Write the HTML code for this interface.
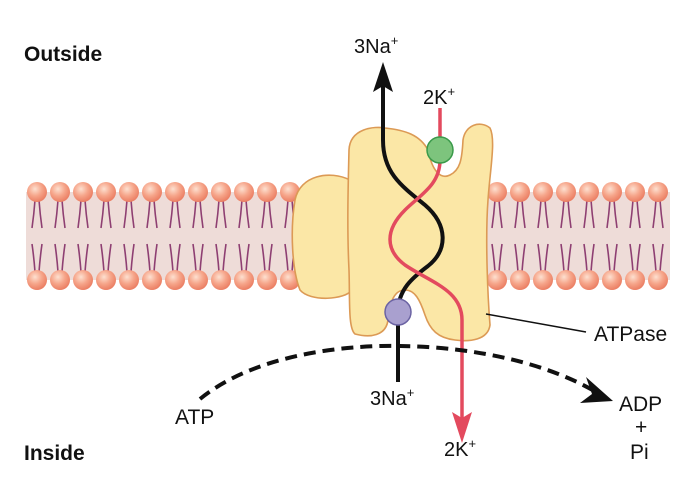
<!DOCTYPE html>
<html><head><style>body{margin:0;background:#fff}svg{display:block}text{font-family:"Liberation Sans",sans-serif;fill:#111}</style></head><body>
<svg width="689" height="477" viewBox="0 0 689 477" xmlns="http://www.w3.org/2000/svg">
<defs>
<radialGradient id="h" cx="0.4" cy="0.35" r="0.7"><stop offset="0" stop-color="#fde0d0"/><stop offset="0.5" stop-color="#f6a58a"/><stop offset="1" stop-color="#e9795e"/></radialGradient>
<g id="lip">
<path d="M-2,200 Q-3,214 -5,228 M2,200 Q3,214 5,228 M-5,244 Q-3,258 -2,272 M5,244 Q3,258 2,272" stroke="#8e3f72" stroke-width="1.6" fill="none"/>
<circle cx="0" cy="192" r="10" fill="url(#h)"/>
<circle cx="0" cy="280" r="10" fill="url(#h)"/>
</g>
</defs>
<rect x="26" y="192" width="644" height="88" fill="#eedcd8"/>
<g>
<use href="#lip" x="37"/><use href="#lip" x="60"/><use href="#lip" x="83"/><use href="#lip" x="106"/><use href="#lip" x="129"/><use href="#lip" x="152"/><use href="#lip" x="175"/><use href="#lip" x="198"/><use href="#lip" x="221"/><use href="#lip" x="244"/><use href="#lip" x="267"/><use href="#lip" x="290"/>
<use href="#lip" x="497"/><use href="#lip" x="520"/><use href="#lip" x="543"/><use href="#lip" x="566"/><use href="#lip" x="589"/><use href="#lip" x="612"/><use href="#lip" x="635"/><use href="#lip" x="658"/>
</g>
<path d="M350,180 C330,170 300,175 295,200 C290,230 292,270 300,290 C310,302 345,300 352,290 Z" fill="#fbe7a6" stroke="#dc9a55" stroke-width="1.6"/>
<path d="M349,150 C350,128 375,126 385,128 C405,130 420,135 428,150 C432,170 440,180 450,175 C460,170 462,160 463,140 C465,125 480,120 490,128 C496,140 490,170 488,200 C485,240 488,300 490,325 C488,340 470,342 455,340 C438,338 430,330 425,315 C420,300 415,290 405,290 C395,290 390,300 388,320 C386,336 370,338 355,334 C348,328 350,300 349,270 C347,230 348,190 349,150 Z" fill="#fbe7a6" stroke="#dc9a55" stroke-width="1.6"/>
<path d="M398,382 L398,312 C398,290 412,278 428,266 C448,250 448,225 425,205 C400,185 383,172 383,140 L383,80" fill="none" stroke="#111" stroke-width="4"/>
<polygon points="383,62 373,92 383,86 393,92" fill="#111"/>
<path d="M440,108 L440,160 C440,185 420,195 405,210 C385,230 385,250 405,265 C430,282 462,290 462,320 L462,420" fill="none" stroke="#e34a5e" stroke-width="3.5"/>
<polygon points="462,443 452,412 462,418 472,412" fill="#e34a5e"/>
<circle cx="440" cy="150" r="13" fill="#7dc47d" stroke="#3a9a4a" stroke-width="1.5"/>
<circle cx="398" cy="312" r="13" fill="#a9a0cf" stroke="#6b63a3" stroke-width="1.5"/>
<line x1="486" y1="314" x2="586" y2="332" stroke="#111" stroke-width="1.5"/>
<path d="M200,399 C260,350 360,345 400,346 C480,347 550,365 596,392" fill="none" stroke="#111" stroke-width="4" stroke-dasharray="12,7"/>
<polygon points="613,401 586,377 592,394 580,403" fill="#111"/>
<text x="24" y="61" font-size="21" font-weight="bold">Outside</text>
<text x="24" y="460" font-size="21" font-weight="bold">Inside</text>
<text x="354" y="53" font-size="20">3Na<tspan font-size="13" dy="-8">+</tspan></text>
<text x="423" y="104" font-size="20">2K<tspan font-size="13" dy="-8">+</tspan></text>
<text x="594" y="341" font-size="21">ATPase</text>
<text x="175" y="424" font-size="21">ATP</text>
<text x="370" y="405" font-size="20">3Na<tspan font-size="13" dy="-8">+</tspan></text>
<text x="444" y="456" font-size="20">2K<tspan font-size="13" dy="-8">+</tspan></text>
<text x="619" y="411" font-size="21">ADP</text>
<text x="635" y="434" font-size="21">+</text>
<text x="630" y="459" font-size="21">Pi</text>
</svg>
</body></html>
